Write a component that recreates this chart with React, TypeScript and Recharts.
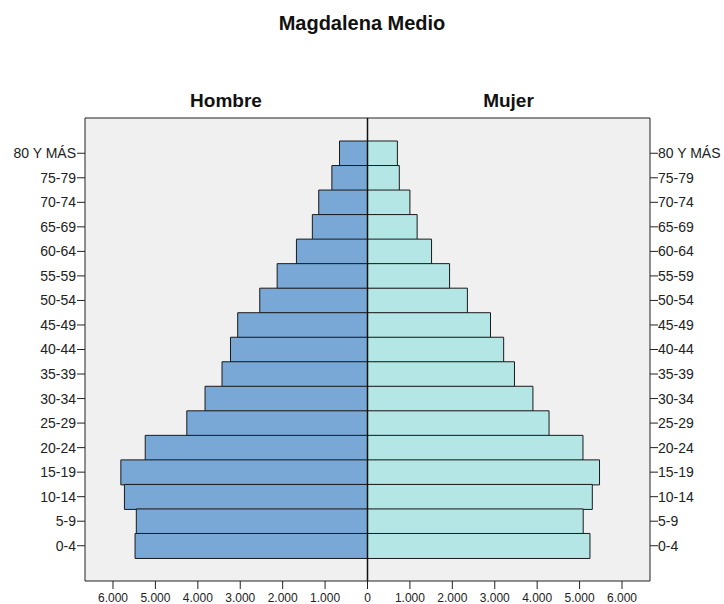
import {
  BarChart,
  Bar,
  XAxis,
  YAxis,
  CartesianGrid,
  ReferenceLine,
} from "recharts";

const AGE_GROUPS = [
  "80 Y MÁS", "75-79", "70-74", "65-69", "60-64", "55-59", "50-54", "45-49", "40-44",
  "35-39", "30-34", "25-29", "20-24", "15-19", "10-14", "5-9", "0-4",
];
const HOMBRE = [
  660, 840, 1150, 1300, 1675, 2130, 2540, 3060, 3230,
  3430, 3830, 4260, 5240, 5815, 5730, 5450, 5480,
];
const MUJER = [
  705, 750, 1000, 1170, 1510, 1935, 2355, 2900, 3210,
  3465, 3900, 4280, 5080, 5470, 5300, 5085, 5245,
];
const X_TICKS = [-6000, -5000, -4000, -3000, -2000, -1000, 0, 1000, 2000, 3000, 4000, 5000, 6000];

const W = 724;
const H = 604;
const FONT = "'Liberation Sans', Arial, sans-serif";

const data = AGE_GROUPS.map((age, i) => ({
  age,
  hombre: -HOMBRE[i],
  mujer: MUJER[i],
}));

const fmt = (v: number) =>
  Math.abs(v).toString().replace(/\B(?=(\d{3})+(?!\d))/g, ".");

const xTickStyle = { fontSize: 12, fill: "#222", fontFamily: FONT, dy: 2 };
const yTickStyle = { fontSize: 14, fill: "#222", fontFamily: FONT };

export default function App() {
  return (
    <div style={{ position: "absolute", left: 0, top: 0, width: W, height: H, background: "#fff", fontFamily: FONT }}>
      <div style={{ position: "absolute", left: 0, width: W - 0, top: 12, textAlign: "center", fontSize: 20, fontWeight: "bold", color: "#111" }}>
        Magdalena Medio
      </div>
      <div style={{ position: "absolute", left: 85, width: 282, top: 90, textAlign: "center", fontSize: 19, fontWeight: "bold", color: "#111" }}>
        Hombre
      </div>
      <div style={{ position: "absolute", left: 367, width: 283, top: 90, textAlign: "center", fontSize: 19, fontWeight: "bold", color: "#111" }}>
        Mujer
      </div>
      <BarChart
        width={W}
        height={H}
        data={data}
        layout="vertical"
        stackOffset="sign"
        barCategoryGap={0}
        margin={{ top: 118, right: 0, bottom: 0, left: 0 }}
        style={{ position: "absolute", left: 0, top: 0 }}
      >
        <CartesianGrid
          vertical={false}
          fill="#f0f0f0"
          stroke="#222"
          horizontalCoordinatesGenerator={({ offset }: any) => [offset.top]}
        />
        <XAxis
          type="number"
          domain={[-6660, 6660]}
          ticks={X_TICKS}
          tickFormatter={fmt}
          height={23}
          tickSize={8}
          tickMargin={2}
          tick={xTickStyle}
          axisLine={{ stroke: "#222" }}
          tickLine={{ stroke: "#222" }}
          allowDataOverflow
        />
        <YAxis
          type="category"
          dataKey="age"
          width={85}
          tickSize={8}
          tickMargin={1}
          tick={yTickStyle}
          padding={{ top: 23, bottom: 23 }}
          axisLine={{ stroke: "#222" }}
          tickLine={{ stroke: "#222" }}
          interval={0}
        />
        <YAxis
          yAxisId="right"
          orientation="right"
          type="category"
          dataKey="age"
          width={74}
          tickSize={8}
          tickMargin={0}
          tick={{ ...yTickStyle, textAnchor: "start" }}
          padding={{ top: 23, bottom: 23 }}
          axisLine={{ stroke: "#222" }}
          tickLine={{ stroke: "#222" }}
          interval={0}
        />
        <Bar dataKey="hombre" stackId="a" fill="#79a8d6" stroke="#1a1a1a" strokeWidth={1} isAnimationActive={false} />
        <Bar dataKey="mujer" stackId="a" fill="#b4e6e6" stroke="#1a1a1a" strokeWidth={1} isAnimationActive={false} />
        <ReferenceLine x={0} stroke="#111" strokeWidth={1.5} />
      </BarChart>
    </div>
  );
}
